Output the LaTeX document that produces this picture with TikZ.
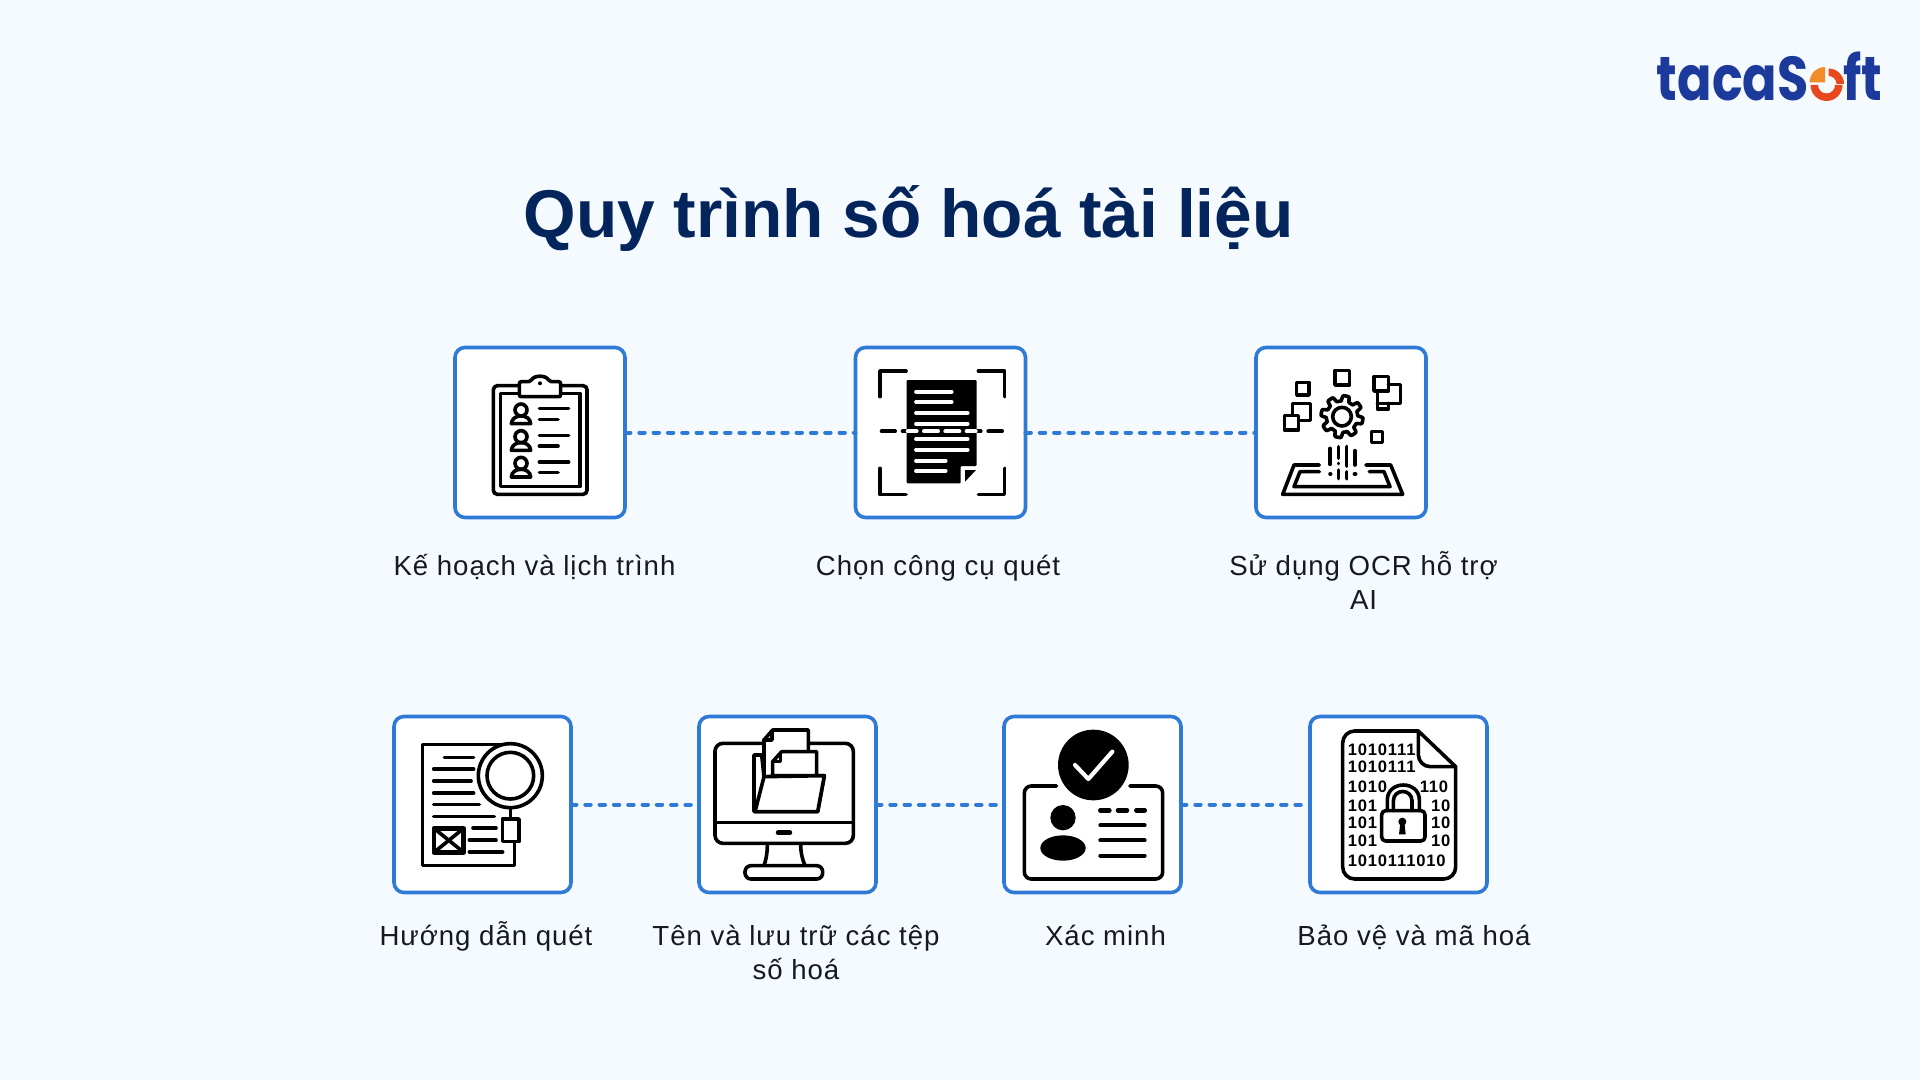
\documentclass[tikz,border=0pt]{standalone}
\usepackage{fontspec}
\setmainfont{Liberation Sans}
\newfontfamily\titlef{Liberation Sans}
\newfontfamily\labf[LetterSpace=3.5]{Liberation Sans}
\newfontfamily\logof[FakeStretch=0.82]{Poppins}
\newfontfamily\binf[LetterSpace=5]{Liberation Sans}
\definecolor{bgc}{HTML}{F5FAFF}
\definecolor{bluec}{HTML}{2E7AD6}
\definecolor{titlec}{HTML}{04245C}
\definecolor{labc}{HTML}{16191F}
\definecolor{logoc}{HTML}{1B3A9C}
\definecolor{orangec}{HTML}{F28C28}
\definecolor{redc}{HTML}{E8481E}
\tikzset{
  zs/.style 2 args={shift={(#1,#2)},x=0.1666667pt,y=-0.1666667pt},
  boxa/.style={draw=bluec,fill=white,line width=1.8pt,rounded corners=5pt,outer sep=0pt,inner sep=0pt,minimum width=85pt,minimum height=85pt},
  boxb/.style={draw=bluec,fill=white,line width=1.8pt,rounded corners=5pt,outer sep=0pt,inner sep=0pt,minimum width=88.5pt,minimum height=88pt},
  conn/.style={draw=bluec,line width=2pt,line cap=round,dash pattern=on 2.7pt off 4.45pt},
  lab/.style={font={\labf\fontsize{13.8}{17.5}\selectfont},text=labc,anchor=base,align=center,inner sep=0pt},
  ic/.style={draw=black,line width=1.8pt,line cap=round,line join=round},
  wl/.style={draw=white,line width=1.9pt,line cap=round},
  bl/.style={draw=black,line width=2pt,line cap=round},
  bin/.style={font={\binf\bfseries\fontsize{8.3}{9}\selectfont},text=black,anchor=base west,inner sep=0pt},
}
\begin{document}
\begin{tikzpicture}[x=0.5pt,y=-0.5pt]
\useasboundingbox[fill=bgc] (0,0) rectangle (1920,1080);
% title
\node[font={\titlef\bfseries\fontsize{33.8}{40}\selectfont},text=titlec,anchor=base,inner sep=0pt] (title) at (908.5,238) {Quy trình số hoá tài liệu};
% boxes
\node[boxa] (b1) at (540,432.5) {};
\node[boxa] (b2) at (940.5,432.5) {};
\node[boxa] (b3) at (1341,432.5) {};
\node[boxb] (b4) at (482.5,804.5) {};
\node[boxb] (b5) at (787.5,804.5) {};
\node[boxb] (b6) at (1092.5,804.5) {};
\node[boxb] (b7) at (1398.5,804.5) {};
\draw[conn] (b1) -- (b2);
\draw[conn] (b2) -- (b3);
\draw[conn] (b4) -- (b5);
\draw[conn] (b5) -- (b6);
\draw[conn] (b6) -- (b7);
% labels
\node[lab] (l1) at (534.5,575) {Kế hoạch và lịch trình};
\node[lab] (l2) at (938,575) {Chọn công cụ quét};
\node[lab] (l3a) at (1363.5,575) {Sử dụng OCR hỗ trợ};
\node[lab] (l3b) at (1363.5,609.5) {AI};
\node[lab] (l4) at (486,945) {Hướng dẫn quét};
\node[lab] (l5a) at (796,945) {Tên và lưu trữ các tệp};
\node[lab] (l5b) at (796,979.5) {số hoá};
\node[lab] (l6) at (1105.5,945) {Xác minh};
\node[lab] (l7) at (1414,945) {Bảo vệ và mã hoá};
% icon 1: clipboard
\begin{scope}[zs={440}{330}]
  \draw[ic,rounded corners=2pt] (160,167) rectangle (441,493);
  \draw[ic] (181,190) rectangle (420,470);
  \draw[ic,fill=white,rounded corners=1pt] (238,200) -- (238,155) -- (272,155) .. controls (282,135) and (318,135) .. (328,155) -- (362,155) -- (362,200) -- cycle;
  \fill (300,160) circle (6);
  \foreach \d in {0,80,160}{
    \begin{scope}[yshift=-\d*0.1666667pt]
      \draw[ic] (243,240) circle (18);
      \draw[ic] (214,281) .. controls (216,250) and (270,250) .. (272,281) -- cycle;
      \draw[ic] (298,236) -- (386,236);
      \draw[ic] (298,268) -- (354,268);
    \end{scope}
  }
\end{scope}
% icon 2: scan
\begin{scope}[zs={840}{330}]
  \draw[ic] (120,200) -- (120,123) -- (198,123);
  \draw[ic] (415,123) -- (494,123) -- (494,200);
  \draw[ic] (120,415) -- (120,494) -- (198,494);
  \draw[ic] (415,494) -- (494,494) -- (494,415);
  \fill[rounded corners=0.5pt] (200,150) -- (410,150) -- (410,408) -- (362,408) -- (362,460) -- (200,460) -- cycle;
  \fill (375,420) -- (408,420) -- (375,455) -- cycle;
  \foreach \y/\e in {185/335,216/335,249/383,281/383,327/383,359/383,392/317,423/317}{
    \draw[wl] (228,\y) -- (\e,\y);
  }
  \foreach \a/\b in {125/165,188/198,412/422,445/486}{\draw[bl] (\a,304) -- (\b,304);}
  \foreach \a/\b in {203/230,252/294,316/358,380/407}{\draw[wl,line width=2pt] (\a,304) -- (\b,304);}
\end{scope}
% icon 3: gear OCR
\begin{scope}[zs={1240}{330}]
  \draw[ic] (170,157) rectangle (207,195);
  \draw[ic] (285,122) rectangle (328,165);
  \draw[ic] (395,305) rectangle (427,337);
  \draw[ic] (158,220) rectangle (212,272);
  \draw[ic,fill=white] (133,256) rectangle (176,300);
  \draw[ic] (402,140) rectangle (445,183);
  \draw[ic] (445,163) -- (481,163) -- (481,220) -- (412,220);
  \draw[ic] (412,183) -- (412,237) -- (445,237) -- (445,220);
  \draw[ic] plot[domain=0:360,samples=161,variable=\t] ({306+(55+8*max(-1,min(1,2.5*sin(8*\t))))*cos(\t)},{260+(55+8*max(-1,min(1,2.5*sin(8*\t))))*sin(\t)}) -- cycle;
  \draw[ic] (306,260) circle (28);
  \draw[ic] (238,405) -- (162,405) -- (128,493) -- (488,493) -- (452,405) -- (378,405);
  \draw[ic] (238,425) -- (180,425) -- (162,470) -- (450,470) -- (432,425) -- (388,425);
  \draw[ic] (270,355) -- (270,403);
  \draw[ic] (270,432) -- (272,432);
  \draw[ic] (295,350) -- (295,385);
  \draw[ic] (295,400) -- (295,401);
  \draw[ic] (295,420) -- (295,446);
  \draw[ic] (320,350) -- (320,408);
  \draw[ic] (320,426) -- (320,446);
  \draw[ic] (345,362) -- (345,405);
  \draw[ic] (343,432) -- (347,432);
\end{scope}
% icon 4: document with magnifier
\begin{scope}[zs={385}{705}]
  \draw[ic,line cap=butt] (375,118) -- (112,118) -- (112,482) -- (388,482) -- (388,410);
  \draw[ic,fill=white] (376,212) circle (96);
  \draw[ic] (376,212) circle (70);
  \draw[ic] (376,308) -- (376,342);
  \draw[ic] (352,342) rectangle (402,410);
  \foreach \y/\a/\b in {157/178/266,192/146/266,228/146/258,264/146/266,299/146/283,335/146/328,369/264/333,405/253/333,441/253/353}{
    \draw[ic] (\a,\y) -- (\b,\y);
  }
  \draw[ic,line width=2.3pt] (147,370) rectangle (236,442);
  \draw[ic] (147,370) -- (236,442);
  \draw[ic] (236,370) -- (147,442);
\end{scope}
% icon 5: monitor and folder
\begin{scope}[zs={690}{705}]
  \draw[ic,rounded corners=4pt] (75,115) rectangle (490,415);
  \draw[ic] (75,353) -- (490,353);
  \draw[ic,line width=2.2pt] (264,383) -- (300,383);
  \draw[ic] (232,417) .. controls (232,445) and (228,465) .. (222,482);
  \draw[ic] (332,417) .. controls (332,445) and (338,465) .. (345,482);
  \draw[ic,fill=white,rounded corners=3pt] (165,482) rectangle (398,522);
  \draw[ic,fill=white] (215,150) -- (192,150) -- (192,320) -- (383,320) -- (403,212) -- (222,215) -- cycle;
  \draw[ic,fill=white] (222,215) -- (222,105) -- (248,75) -- (355,75) -- (355,140) -- (355,212) -- cycle;
  \draw[ic,fill=white] (248,212) -- (248,170) -- (275,140) -- (380,140) -- (380,212) -- cycle;
  \draw[ic,fill=white] (222,215) -- (403,212) -- (383,320) -- (195,320) -- cycle;
  \draw[ic] (222,105) -- (246,105) -- (246,78);
  \draw[ic] (248,170) -- (272,170) -- (272,143);
\end{scope}
% icon 6: verified id card
\begin{scope}[zs={995}{705}]
  \draw[ic,rounded corners=3.5pt] (185,243) -- (88,243) -- (88,522) -- (503,522) -- (503,243) -- (405,243);
  \fill (295,180) circle (106);
  \draw[draw=white,line width=2.1pt,line cap=round,line join=round] (240,180) -- (280,222) -- (352,140);
  \fill (204,338) circle (38);
  \fill (204,429) ellipse [x radius=68,y radius=38];
  \foreach \a/\b in {316/343,369/396,424/449}{\draw[ic,line width=2.3pt] (\a,316) -- (\b,316);}
  \foreach \y in {361,406,452}{\draw[ic,line width=2pt] (316,\y) -- (449,\y);}
\end{scope}
% icon 7: encrypted file
\begin{scope}[zs={1300}{705}]
  \draw[ic,rounded corners=6pt] (355,78) -- (128,78) -- (128,522) -- (467,522) -- (467,185);
  \draw[ic] (467,185) -- (355,78);
  \draw[ic,rounded corners=6pt] (355,78) -- (355,185) -- (467,185);
  \node[bin] (r1) at (142,151) {1010111};
  \node[bin] (r2) at (142,201) {1010111};
  \node[bin] (r3a) at (142,263) {1010};
  \node[bin] (r3b) at (358,263) {110};
  \node[bin] (r4a) at (142,318) {101};
  \node[bin] (r4b) at (392,318) {10};
  \node[bin] (r5a) at (142,370) {101};
  \node[bin] (r5b) at (392,370) {10};
  \node[bin] (r6a) at (142,423) {101};
  \node[bin] (r6b) at (392,423) {10};
  \node[bin] (r7) at (142,483) {1010111010};
  \draw[ic] (262,317) -- (262,285) .. controls (262,225) and (358,225) .. (358,285) -- (358,317);
  \draw[ic] (280,317) -- (280,288) .. controls (280,250) and (336,250) .. (336,288) -- (336,317);
  \draw[ic,rounded corners=2pt] (245,317) rectangle (375,408);
  \fill (307,350) circle (12);
  \fill (301,352) -- (313,352) -- (317,388) -- (297,388) -- cycle;
\end{scope}
% logo
\node[font={\logof\bfseries\fontsize{31}{34}\selectfont},text=logoc,anchor=base east,inner sep=0pt] (logo1) at (1809,100.5) {tacaS};
\node[font={\logof\bfseries\fontsize{31}{34}\selectfont},text=logoc,anchor=base west,inner sep=0pt] (logo2) at (1843,100.5) {ft};
\fill[orangec] (1825,82.5) -- (1809.5,82.5) arc[start angle=180,end angle=270,radius=15.5] -- cycle;
\fill[redc] (1828.5,68.5) arc[start angle=270,end angle=360,radius=15.5] -- (1836.5,84) arc[start angle=360,end angle=270,radius=8] -- cycle;
\fill[redc] (1810.5,85) arc[start angle=180,end angle=0,radius=16] -- (1835,85) arc[start angle=0,end angle=180,radius=8.5] -- cycle;
\end{tikzpicture}
\end{document}
